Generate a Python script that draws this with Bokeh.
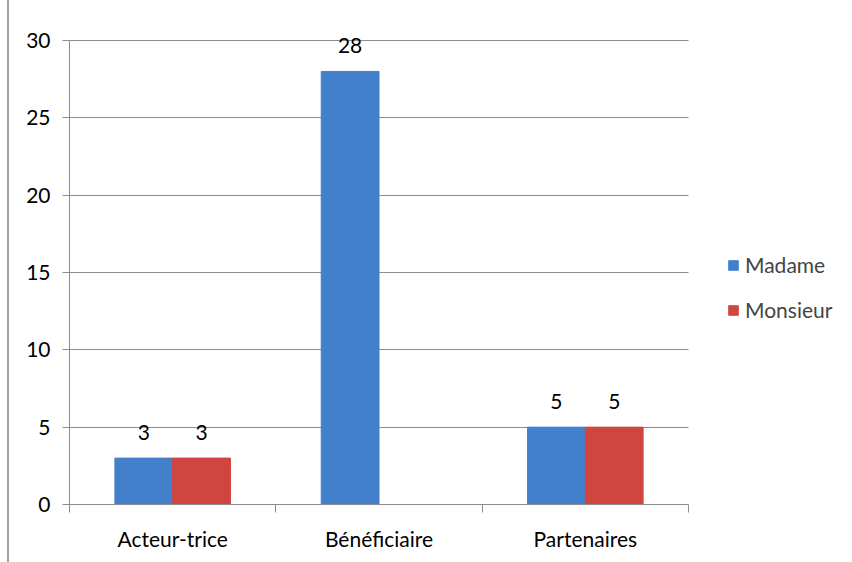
from bokeh.plotting import figure
from bokeh.models import ColumnDataSource, FixedTicker, Legend, LegendItem, Range1d, LabelSet
from bokeh.transform import dodge
from bokeh.core.properties import value
from bokeh.embed import file_html
from bokeh.resources import INLINE

categories = ["Acteur-trice", "Bénéficiaire", "Partenaires"]
madame = [3, 28, 5]
monsieur = [3, 0, 5]
series_names = ["Madame", "Monsieur"]
y_ticks = [0, 5, 10, 15, 20, 25, 30]

FONT = "Lato"
FS = "21px"
BLUE = "#4380CC"
RED = "#D0453F"
GRID = "#8c8c8c"

n = len(categories)
y_max = y_ticks[-1]
# frame extends past the plotted area (legend to the right, label room on top)
x_end = n * 783 / 619
y_end = y_max * 479 / 464

xc = [i + 0.5 for i in range(n)]
src = ColumnDataSource(dict(
    x=xc, madame=madame, monsieur=monsieur,
    lab_m=[str(v) if v else "" for v in madame],
    lab_s=[str(v) if v else "" for v in monsieur],
))

p = figure(width=843, height=562, output_backend="svg", toolbar_location=None,
           x_range=Range1d(0, x_end), y_range=Range1d(0, y_end),
           min_border_left=60, min_border_right=0, min_border_top=25, min_border_bottom=58)
p.styles = {"margin-left": "7px", "border-left": "2px solid #a0a0a0"}
p.outline_line_color = None
p.background_fill_color = "white"

r1 = p.vbar(x=dodge("x", -0.14, range=p.x_range), top="madame", width=0.28, source=src,
            fill_color=BLUE, line_color=BLUE)
r2 = p.vbar(x=dodge("x", 0.14, range=p.x_range), top="monsieur", width=0.28, source=src,
            fill_color=RED, line_color=RED)

for col, ycol, off in (("lab_m", "madame", -0.14), ("lab_s", "monsieur", 0.14)):
    p.add_layout(LabelSet(x=dodge("x", off, range=p.x_range), y=ycol,
                          text=col, source=src, text_align="center", text_baseline="bottom",
                          y_offset=18, text_font=value(FONT), text_font_size=FS, text_color="#000000"))

# axes
p.xgrid.visible = False
p.ygrid.grid_line_color = GRID
p.ygrid.grid_line_width = 1
p.ygrid.cross_bounds = (0, n)
p.yaxis.bounds = (0, y_max)
p.yaxis.ticker = FixedTicker(ticks=y_ticks)
p.yaxis.axis_line_color = GRID
p.yaxis.major_tick_line_color = GRID
p.yaxis.major_tick_out = 7
p.yaxis.major_tick_in = 0
p.yaxis.minor_tick_line_color = None
p.yaxis.major_label_text_font = FONT
p.yaxis.major_label_text_font_size = FS
p.yaxis.major_label_text_color = "#000000"
p.yaxis.major_label_standoff = 12

p.xaxis.bounds = (0, n)
p.xaxis.ticker = FixedTicker(ticks=xc, minor_ticks=list(range(n + 1)))
p.xaxis.major_label_overrides = {x: c for x, c in zip(xc, categories)}
p.xaxis.axis_line_color = GRID
p.xaxis.major_tick_line_color = None
p.xaxis.major_tick_out = 0
p.xaxis.major_tick_in = 0
p.xaxis.minor_tick_line_color = GRID
p.xaxis.minor_tick_out = 8
p.xaxis.minor_tick_in = 0
p.xaxis.major_label_text_font = FONT
p.xaxis.major_label_text_font_size = FS
p.xaxis.major_label_text_color = "#000000"
p.xaxis.major_label_standoff = 13

legend = Legend(items=[LegendItem(label=series_names[0], renderers=[r1]),
                       LegendItem(label=series_names[1], renderers=[r2])],
                location=(658, 182))
legend.border_line_color = None
legend.background_fill_alpha = 0
legend.label_text_font = FONT
legend.label_text_font_size = FS
legend.glyph_width = 12
legend.glyph_height = 12
legend.label_standoff = 6
legend.spacing = 20
legend.padding = 0
legend.margin = 0
p.add_layout(legend)

open("out.html", "w").write(file_html(p, INLINE))
